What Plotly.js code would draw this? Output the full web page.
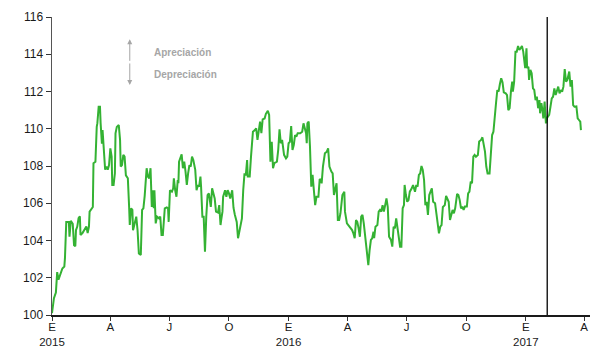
<!DOCTYPE html>
<html>
<head>
<meta charset="utf-8">
<script src="https://cdn.plot.ly/plotly-3.0.1.min.js"></script>
<style>
  html, body { margin: 0; padding: 0; background: #ffffff; }
  #chart { width: 593px; height: 347px; }
</style>
</head>
<body>
<div id="chart"></div>
<script>
// Tipo de cambio real (índice), observaciones diarias
const fechas = [
  '2015-01-01','2015-01-04','2015-01-07','2015-01-09','2015-01-11','2015-01-14','2015-01-17','2015-01-20','2015-01-21','2015-01-23',
  '2015-01-27','2015-01-28','2015-01-30','2015-02-02','2015-02-04','2015-02-06','2015-02-07','2015-02-09','2015-02-11','2015-02-13',
  '2015-02-14','2015-02-17','2015-02-20','2015-02-23','2015-02-25','2015-02-27','2015-02-28','2015-03-03','2015-03-05','2015-03-06',
  '2015-03-09','2015-03-11','2015-03-12','2015-03-14','2015-03-16','2015-03-17','2015-03-18','2015-03-19','2015-03-20','2015-03-22',
  '2015-03-24','2015-03-26','2015-03-28','2015-03-30','2015-04-01','2015-04-03','2015-04-04','2015-04-06','2015-04-08','2015-04-09',
  '2015-04-11','2015-04-14','2015-04-16','2015-04-17','2015-04-19','2015-04-21','2015-04-23','2015-04-25','2015-04-28','2015-04-30',
  '2015-05-01','2015-05-03','2015-05-05','2015-05-06','2015-05-09','2015-05-11','2015-05-13','2015-05-15','2015-05-18','2015-05-20',
  '2015-05-22','2015-05-24','2015-05-27','2015-05-29','2015-05-31','2015-06-02','2015-06-04','2015-06-06','2015-06-07','2015-06-08',
  '2015-06-10','2015-06-12','2015-06-15','2015-06-17','2015-06-19','2015-06-21','2015-06-24','2015-06-27','2015-06-29','2015-06-30',
  '2015-07-02','2015-07-05','2015-07-07','2015-07-08','2015-07-10','2015-07-12','2015-07-14','2015-07-15','2015-07-16','2015-07-18',
  '2015-07-20','2015-07-22','2015-07-24','2015-07-26','2015-07-28','2015-07-30','2015-08-01','2015-08-03','2015-08-05','2015-08-07',
  '2015-08-10','2015-08-12','2015-08-14','2015-08-16','2015-08-18','2015-08-19','2015-08-21','2015-08-23','2015-08-25','2015-08-27',
  '2015-08-29','2015-08-31','2015-09-03','2015-09-05','2015-09-07','2015-09-09','2015-09-11','2015-09-14','2015-09-16','2015-09-18',
  '2015-09-19','2015-09-21','2015-09-22','2015-09-25','2015-09-27','2015-09-29','2015-10-01','2015-10-03','2015-10-06','2015-10-08',
  '2015-10-10','2015-10-13','2015-10-15','2015-10-18','2015-10-21','2015-10-23','2015-10-25','2015-10-27','2015-10-29','2015-10-30',
  '2015-11-02','2015-11-04','2015-11-07','2015-11-10','2015-11-12','2015-11-14','2015-11-16','2015-11-18','2015-11-20','2015-11-22',
  '2015-11-25','2015-11-27','2015-11-30','2015-12-02','2015-12-04','2015-12-06','2015-12-08','2015-12-10','2015-12-14','2015-12-16',
  '2015-12-18','2015-12-20','2015-12-22','2015-12-25','2015-12-28','2015-12-30','2016-01-01','2016-01-03','2016-01-05','2016-01-07',
  '2016-01-09','2016-01-11','2016-01-13','2016-01-15','2016-01-19','2016-01-22','2016-01-24','2016-01-26','2016-01-28','2016-01-29',
  '2016-01-30','2016-02-01','2016-02-03','2016-02-05','2016-02-07','2016-02-09','2016-02-11','2016-02-13','2016-02-16','2016-02-18',
  '2016-02-20','2016-02-21','2016-02-23','2016-02-26','2016-02-29','2016-03-02','2016-03-04','2016-03-07','2016-03-09','2016-03-11',
  '2016-03-13','2016-03-15','2016-03-17','2016-03-19','2016-03-21','2016-03-24','2016-03-27','2016-03-28','2016-03-31','2016-04-02',
  '2016-04-05','2016-04-08','2016-04-10','2016-04-12','2016-04-14','2016-04-16','2016-04-18','2016-04-20','2016-04-22','2016-04-24',
  '2016-04-26','2016-04-28','2016-05-01','2016-05-03','2016-05-05','2016-05-07','2016-05-09','2016-05-11','2016-05-12','2016-05-14',
  '2016-05-17','2016-05-19','2016-05-21','2016-05-23','2016-05-25','2016-05-27','2016-05-29','2016-05-31','2016-06-02','2016-06-04',
  '2016-06-07','2016-06-09','2016-06-11','2016-06-13','2016-06-15','2016-06-17','2016-06-19','2016-06-21','2016-06-23','2016-06-25',
  '2016-06-27','2016-06-28','2016-06-30','2016-07-02','2016-07-04','2016-07-06','2016-07-09','2016-07-11','2016-07-14','2016-07-16',
  '2016-07-18','2016-07-20','2016-07-22','2016-07-24','2016-07-26','2016-07-28','2016-07-30','2016-08-01','2016-08-03','2016-08-05',
  '2016-08-07','2016-08-09','2016-08-11','2016-08-14','2016-08-16','2016-08-18','2016-08-20','2016-08-22','2016-08-24','2016-08-26',
  '2016-08-29','2016-08-31','2016-09-02','2016-09-04','2016-09-06','2016-09-08','2016-09-10','2016-09-12','2016-09-14','2016-09-17',
  '2016-09-19','2016-09-21','2016-09-23','2016-09-25','2016-09-27','2016-09-29','2016-10-02','2016-10-04','2016-10-06','2016-10-08',
  '2016-10-10','2016-10-12','2016-10-14','2016-10-16','2016-10-19','2016-10-21','2016-10-24','2016-10-26','2016-10-28','2016-10-30',
  '2016-11-01','2016-11-03','2016-11-06','2016-11-08','2016-11-10','2016-11-12','2016-11-14','2016-11-16','2016-11-18','2016-11-20',
  '2016-11-22','2016-11-24','2016-11-26','2016-11-28','2016-12-01','2016-12-03','2016-12-05','2016-12-07','2016-12-09','2016-12-11',
  '2016-12-12','2016-12-14','2016-12-16','2016-12-18','2016-12-20','2016-12-22','2016-12-24','2016-12-26','2016-12-28','2016-12-31',
  '2017-01-02','2017-01-03','2017-01-05','2017-01-06','2017-01-08','2017-01-10','2017-01-12','2017-01-14','2017-01-16','2017-01-18',
  '2017-01-20','2017-01-22','2017-01-23','2017-01-25','2017-01-27','2017-01-28','2017-01-30','2017-01-31','2017-02-01','2017-02-03',
  '2017-02-06','2017-02-08','2017-02-10','2017-02-12','2017-02-14','2017-02-16','2017-02-18','2017-02-20','2017-02-22','2017-02-24',
  '2017-02-26','2017-02-28','2017-03-02','2017-03-04','2017-03-06','2017-03-09','2017-03-11','2017-03-13','2017-03-15','2017-03-17',
  '2017-03-20','2017-03-22','2017-03-24','2017-03-26','2017-03-27'
];
const indice = [
  100.1,100.9,101.2,102.3,101.9,102.15,102.5,102.6,103.05,105.0,
  105.0,104.2,105.05,104.9,103.75,103.7,104.55,104.75,105.2,105.3,
  104.3,104.4,104.55,104.75,104.4,104.75,105.55,105.73,105.8,108.15,
  108.23,110.1,110.3,111.18,111.18,110.3,109.93,109.2,109.93,108.5,
  107.8,107.97,107.8,108.05,108.95,108.5,106.98,106.98,107.6,109.75,
  110.1,110.2,109.4,107.97,108.05,108.6,108.5,107.5,107.34,105.8,
  104.83,105.73,105.64,104.55,105.0,105.28,104.55,103.3,103.22,105.64,
  105.73,106.4,107.88,107.43,107.34,107.88,105.8,106.7,105.73,106.7,
  104.92,105.28,105.19,105.28,104.3,104.3,105.73,105.78,105.73,105.0,
  106.7,106.62,106.8,107.34,106.7,106.35,107.25,107.07,108.23,108.4,
  108.62,107.88,108.23,107.7,106.98,107.6,108.05,107.97,108.5,108.32,
  107.79,106.7,106.98,106.89,107.43,106.89,105.28,105.28,103.4,105.28,
  106.44,106.53,105.8,106.8,106.53,106.26,105.55,105.5,105.9,104.83,
  105.1,105.55,106.35,106.7,106.35,106.7,106.53,106.26,106.7,105.76,
  105.4,105.0,104.12,104.74,105.19,106.7,107.6,107.5,108.32,107.43,
  107.43,108.5,109.84,109.93,110.02,109.4,109.93,110.38,109.76,110.5,
  110.55,110.8,110.97,110.74,108.23,109.3,107.88,108.15,108.23,108.86,
  109.97,109.22,109.4,108.6,108.41,108.5,109.22,109.3,110.15,108.86,
  109.13,109.66,109.57,109.76,109.76,109.84,110.29,110.02,109.76,109.22,
  110.29,110.38,109.04,106.89,107.52,106.7,105.9,106.35,106.35,107.3,
  107.25,107.07,107.97,108.68,108.77,108.95,107.97,107.7,107.6,106.44,
  106.7,107.07,105.1,105.1,105.46,106.44,106.62,105.55,104.92,104.83,
  104.74,104.56,104.38,104.12,105.1,105.0,104.65,104.2,105.28,105.37,
  104.92,104.2,103.13,102.68,103.49,104.03,104.12,104.47,104.12,104.74,
  104.83,105.55,105.64,105.55,105.9,105.55,105.9,106.26,105.8,104.2,
  104.03,103.67,104.74,104.65,105.19,104.56,104.2,103.67,103.67,105.73,
  105.9,106.98,106.44,106.08,106.17,106.62,106.8,106.98,106.62,106.98,
  106.89,107.52,107.6,108.0,107.79,107.25,105.9,106.08,105.37,106.44,
  106.62,106.8,106.08,106.0,105.46,104.92,104.38,104.74,104.83,105.8,
  105.9,106.39,106.17,106.08,105.1,105.46,105.64,105.46,105.73,106.5,
  106.44,106.17,105.73,105.82,105.64,105.82,105.82,106.53,106.62,107.16,
  107.07,108.5,108.59,108.5,108.59,109.31,109.4,109.54,109.13,108.77,
  107.97,107.6,107.6,108.68,109.66,109.84,110.91,111.37,112.08,111.99,
  112.4,112.71,112.5,111.95,111.9,111.81,111.0,111.1,111.99,112.53,
  111.99,112.53,114.14,114.14,114.44,114.23,114.32,114.44,114.14,113.25,
  114.32,113.25,113.33,112.62,113.16,112.98,112.17,112.08,111.54,111.72,
  111.1,111.54,110.83,111.37,110.91,110.56,111.46,110.65,110.29,110.6,
  110.74,111.18,111.63,111.72,112.17,111.81,111.99,112.26,111.9,112.08,
  111.99,112.26,113.2,112.53,112.62,113.07,112.26,112.62,111.27,111.18,
  111.2,110.56,110.47,110.38,109.93
];

// Marcas trimestrales del eje temporal
const marcasFecha = ['2015-01-01','2015-04-01','2015-07-01','2015-10-01','2016-01-01','2016-04-01',
                     '2016-07-01','2016-10-01','2017-01-01','2017-04-01'];
const marcasTexto = ['E<br>2015','A','J','O','E<br>2016','A','J','O','E<br>2017','A'];

const fechaCorte = '2017-02-03';
const rangoFechas = ['2015-01-01', '2017-04-10'];
const rangoIndice = [100, 116];

const trazo = {
  x: fechas,
  y: indice,
  type: 'scatter',
  mode: 'lines',
  line: { color: '#34b233', width: 2 },
  hoverinfo: 'x+y'
};

const gris = '#a6a6a6';

const layout = {
  width: 593,
  height: 347,
  margin: { l: 52, r: 3, t: 17, b: 32 },
  paper_bgcolor: '#ffffff',
  plot_bgcolor: '#ffffff',
  showlegend: false,
  font: { family: 'Liberation Sans, Arial, sans-serif', size: 12, color: '#1a1a1a' },
  xaxis: {
    type: 'date',
    range: rangoFechas,
    tickmode: 'array',
    tickvals: marcasFecha,
    ticktext: marcasTexto,
    ticks: 'outside',
    ticklen: 4,
    ticklabelstandoff: -3,
    tickcolor: '#333333',
    showline: true,
    linecolor: '#1a1a1a',
    linewidth: 1.5,
    showgrid: false,
    zeroline: false,
    tickfont: { size: 11.5, color: '#1a1a1a' }
  },
  yaxis: {
    range: rangoIndice,
    dtick: 2,
    tick0: 100,
    ticks: 'outside',
    ticklen: 5,
    tickcolor: '#333333',
    showline: true,
    linecolor: '#555555',
    linewidth: 1.5,
    showgrid: false,
    zeroline: false,
    tickfont: { size: 12, color: '#1a1a1a' }
  },
  shapes: [
    {
      type: 'line', xref: 'x', yref: 'paper',
      x0: fechaCorte, x1: fechaCorte, y0: 0, y1: 1,
      line: { color: '#000000', width: 1.3 }
    }
  ],
  annotations: [
    {
      x: '2015-05-01', y: 114.8, xref: 'x', yref: 'y',
      ax: 0, ay: 23, text: '', showarrow: true,
      arrowhead: 2, arrowsize: 1, arrowwidth: 1, arrowcolor: gris
    },
    {
      x: '2015-05-01', y: 112.35, xref: 'x', yref: 'y',
      ax: 0, ay: -23, text: '', showarrow: true,
      arrowhead: 2, arrowsize: 1, arrowwidth: 1, arrowcolor: gris
    },
    {
      x: '2015-06-04', y: 114.12, xref: 'x', yref: 'y',
      xanchor: 'left', yanchor: 'middle', showarrow: false,
      text: '<b>Apreciación</b>',
      font: { size: 10, color: gris }
    },
    {
      x: '2015-06-04', y: 112.9, xref: 'x', yref: 'y',
      xanchor: 'left', yanchor: 'middle', showarrow: false,
      text: '<b>Depreciación</b>',
      font: { size: 10, color: gris }
    }
  ]
};

Plotly.newPlot('chart', [trazo], layout, { staticPlot: true, displayModeBar: false });
</script>
</body>
</html>
